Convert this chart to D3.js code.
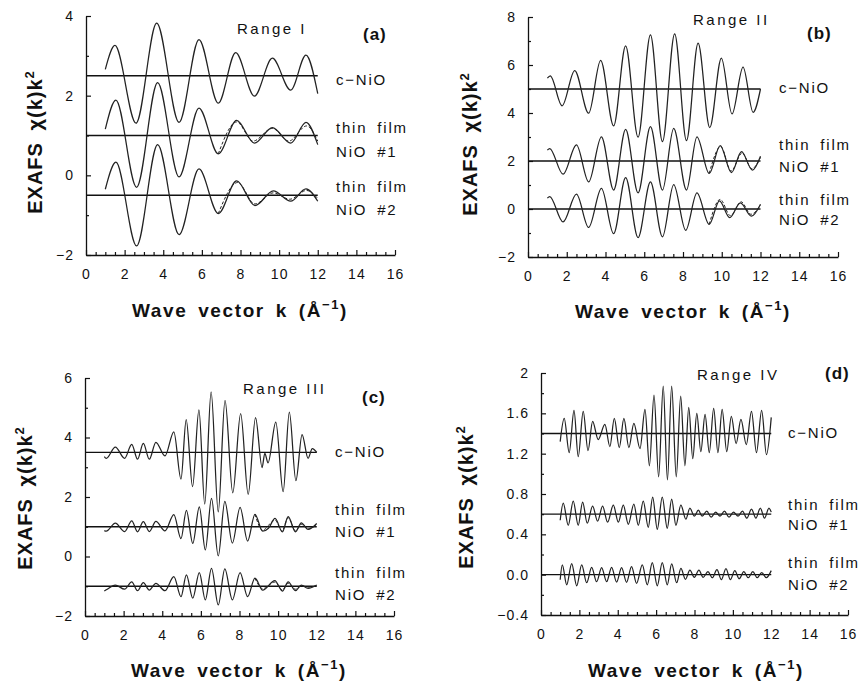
<!DOCTYPE html>
<html>
<head>
<meta charset="utf-8">
<script src="https://cdn.jsdelivr.net/npm/d3@7"></script>
<style>
  body { margin: 0; background: #fff; }
  text { font-family: "Liberation Sans", Arial, Helvetica, sans-serif; fill: #111; }
</style>
</head>
<body>
<div id="chart"></div>
<script>
// ---- data: [k, chi(k)k^2] at turning points ----
const xTicks = [0, 2, 4, 6, 8, 10, 12, 14, 16];
const seriesNames = ["c\u2212NiO", "thin film", "NiO #1", "thin film", "NiO #2"];

// (a) Range I
const aTicks = [-2, 0, 2, 4];
const aBaselines = [2.5, 1.0, -0.5];
const aCNiO = [[1.0,2.66],[1.5,3.26],[2.59,1.31],[3.66,3.82],[4.82,1.33],[5.85,3.41],[6.85,1.81],[7.75,3.08],[8.72,1.99],[9.65,2.94],[10.6,2.14],[11.39,3.02],[12.0,2.05]];
const aFilm1 = [[1.0,1.16],[1.55,1.89],[2.62,-0.3],[3.71,2.33],[4.82,-0.04],[5.85,1.69],[6.85,0.54],[7.8,1.38],[8.72,0.81],[9.65,1.2],[10.6,0.81],[11.39,1.33],[12.0,0.77]];
const aFilm1Fit = [[6.85,0.54],[7.8,1.34],[8.65,0.86],[9.65,1.18],[10.5,0.86],[11.42,1.24],[12.0,0.86]];
const aFilm2 = [[1.0,-0.35],[1.55,0.33],[2.62,-1.77],[3.71,0.77],[4.82,-1.49],[5.85,0.16],[6.85,-0.96],[7.8,-0.14],[8.75,-0.76],[9.7,-0.39],[10.6,-0.65],[11.39,-0.34],[12.0,-0.65]];
const aFilm2Fit = [[6.85,-0.96],[7.85,-0.18],[8.75,-0.72],[9.7,-0.44],[10.55,-0.6],[11.42,-0.38],[12.0,-0.58]];

// (b) Range II
const bTicks = [-2, 0, 2, 4, 6, 8];
const bBaselines = [5.0, 2.0, 0.0];
const bCNiO = [[1.0,5.45],[1.15,5.55],[1.76,4.3],[2.41,5.77],[3.13,3.99],[3.75,6.19],[4.42,3.46],[5.04,6.8],[5.68,2.99],[6.32,7.26],[6.94,2.81],[7.57,7.3],[8.18,2.85],[8.78,6.91],[9.38,3.39],[9.98,6.29],[10.53,3.96],[11.1,5.91],[11.62,4.03],[12.0,5.0]];
const bFilm1 = [[1.0,2.45],[1.12,2.52],[1.81,1.45],[2.5,2.67],[3.13,1.13],[3.79,3.01],[4.42,0.79],[5.04,3.32],[5.68,0.67],[6.32,3.43],[6.94,0.79],[7.52,3.36],[8.18,0.79],[8.72,3.01],[9.35,1.48],[9.92,2.64],[10.5,1.52],[11.02,2.39],[11.58,1.62],[12.0,2.2]];
const bFilm1Fit = [[9.35,1.48],[9.95,2.6],[10.48,1.58],[11.05,2.33],[11.55,1.68],[12.0,2.15]];
const bFilm2 = [[1.0,0.45],[1.12,0.52],[1.81,-0.54],[2.5,0.62],[3.13,-0.77],[3.79,0.86],[4.42,-1.03],[5.04,1.31],[5.68,-1.19],[6.32,1.13],[6.94,-1.16],[7.52,1.02],[8.14,-0.89],[8.72,0.67],[9.35,-0.64],[9.88,0.34],[10.41,-0.36],[10.96,0.26],[11.53,-0.3],[12.0,0.2]];
const bFilm2Fit = [[9.35,-0.64],[9.92,0.4],[10.45,-0.28],[11.0,0.3],[11.5,-0.22],[12.0,0.15]];

// (c) Range III
const cTicks = [-2, 0, 2, 4, 6];
const cBaselines = [3.5, 1.0, -1.0];
const cCNiO = [[1.0,3.36],[1.1,3.3],[1.57,3.68],[2.05,3.3],[2.42,3.77],[2.72,3.27],[3.02,3.8],[3.33,3.27],[3.67,3.84],[4.14,3.38],[4.6,4.19],[4.97,2.6],[5.24,4.6],[5.57,2.35],[5.9,4.93],[6.2,1.76],[6.53,5.53],[6.9,1.5],[7.25,5.25],[7.65,2.14],[8.06,4.8],[8.45,2.09],[8.83,4.67],[9.17,2.99],[9.31,3.47],[9.48,3.15],[9.88,4.52],[10.26,2.18],[10.58,4.85],[10.92,2.55],[11.24,4.1],[11.55,3.3],[11.77,3.63],[12.0,3.5]];
const cFilm1 = [[1.0,0.87],[1.1,0.85],[1.57,1.12],[2.05,0.84],[2.42,1.2],[2.72,0.83],[3.02,1.17],[3.33,0.84],[3.67,1.18],[4.14,0.86],[4.6,1.41],[4.97,0.6],[5.25,1.55],[5.58,0.44],[5.92,1.67],[6.23,0.22],[6.55,1.95],[6.9,0.02],[7.24,1.85],[7.63,0.45],[8.03,1.65],[8.42,0.52],[8.8,1.42],[9.2,0.85],[9.5,0.95],[9.84,1.28],[10.22,0.83],[10.52,1.34],[10.9,0.83],[11.2,1.13],[11.55,0.91],[12.0,1.11]];
const cFilm1Fit = [[8.8,1.42],[9.2,0.88],[9.5,1.05],[9.84,1.22],[10.2,0.86],[10.52,1.3],[10.9,0.86],[11.2,1.08],[11.55,0.94],[12.0,1.06]];
const cFilm2 = [[1.0,-1.16],[1.1,-1.12],[1.57,-0.96],[2.05,-1.1],[2.42,-0.85],[2.72,-1.15],[3.02,-0.88],[3.33,-1.13],[3.67,-0.9],[4.14,-1.15],[4.6,-0.68],[4.97,-1.35],[5.25,-0.62],[5.58,-1.4],[5.92,-0.54],[6.23,-1.46],[6.55,-0.4],[6.9,-1.63],[7.24,-0.42],[7.63,-1.46],[8.03,-0.54],[8.42,-1.35],[8.8,-0.73],[9.2,-1.13],[9.83,-0.81],[10.22,-1.16],[10.52,-0.85],[10.9,-1.15],[11.2,-0.96],[11.55,-1.07],[12.0,-0.96]];
const cFilm2Fit = [[8.8,-0.73],[9.2,-1.08],[9.83,-0.86],[10.22,-1.12],[10.52,-0.9],[10.9,-1.1],[11.2,-0.98],[11.55,-1.03],[12.0,-0.98]];

// (d) Range IV
const dTicks = [-0.4, 0, 0.4, 0.8, 1.2, 1.6, 2];
const dBaselines = [1.4, 0.6, 0.0];
const dCNiO = [[1.0,1.32],[1.21,1.55],[1.47,1.21],[1.72,1.63],[1.94,1.17],[2.2,1.62],[2.45,1.23],[2.69,1.52],[2.98,1.34],[3.33,1.49],[3.59,1.27],[3.82,1.55],[4.08,1.26],[4.32,1.55],[4.58,1.26],[4.84,1.5],[5.16,1.25],[5.42,1.64],[5.65,1.08],[5.89,1.78],[6.13,0.97],[6.37,1.87],[6.59,0.94],[6.81,1.87],[7.05,0.97],[7.28,1.77],[7.5,1.08],[7.7,1.66],[7.91,1.15],[8.12,1.6],[8.33,1.22],[8.55,1.59],[8.77,1.21],[9.0,1.65],[9.22,1.21],[9.44,1.64],[9.68,1.22],[9.92,1.57],[10.17,1.3],[10.42,1.54],[10.7,1.29],[10.97,1.62],[11.23,1.21],[11.5,1.63],[11.75,1.19],[12.0,1.56]];
const dFilm1 = [[1.0,0.54],[1.16,0.71],[1.42,0.49],[1.68,0.73],[1.94,0.49],[2.17,0.72],[2.41,0.51],[2.69,0.68],[2.95,0.53],[3.21,0.68],[3.47,0.52],[3.77,0.69],[4.03,0.52],[4.29,0.69],[4.55,0.5],[4.84,0.7],[5.07,0.49],[5.33,0.73],[5.59,0.47],[5.82,0.77],[6.06,0.45],[6.32,0.77],[6.58,0.46],[6.81,0.75],[7.03,0.49],[7.29,0.69],[7.55,0.55],[7.76,0.66],[7.99,0.58],[8.2,0.64],[8.4,0.58],[8.64,0.63],[8.87,0.57],[9.1,0.62],[9.33,0.58],[9.56,0.63],[9.8,0.57],[10.03,0.62],[10.27,0.58],[10.5,0.63],[10.73,0.56],[10.97,0.65],[11.2,0.56],[11.43,0.66],[11.65,0.56],[11.88,0.66],[12.0,0.62]];
const dFilm2 = [[1.0,-0.05],[1.11,0.096],[1.34,-0.1],[1.6,0.11],[1.86,-0.11],[2.12,0.096],[2.38,-0.08],[2.64,0.073],[2.9,-0.07],[3.16,0.07],[3.42,-0.07],[3.68,0.073],[3.94,-0.073],[4.2,0.07],[4.46,-0.076],[4.72,0.08],[4.98,-0.086],[5.28,0.096],[5.54,-0.1],[5.8,0.12],[6.06,-0.11],[6.32,0.12],[6.58,-0.1],[6.81,0.106],[7.07,-0.08],[7.29,0.063],[7.53,-0.046],[7.76,0.046],[7.99,-0.026],[8.23,0.046],[8.45,-0.026],[8.7,0.03],[8.93,-0.03],[9.17,0.05],[9.4,-0.05],[9.64,0.06],[9.87,-0.05],[10.1,0.04],[10.33,-0.04],[10.57,0.03],[10.8,-0.03],[11.04,0.03],[11.27,-0.03],[11.5,0.02],[11.74,-0.03],[12.0,0.04]];

// ---- layout ----
const W = 861, H = 681;
const fmtInt = d => d < 0 ? "\u2212" + Math.abs(d) : String(d);
const fmtDec = d => d === 2 ? "2" : (d < 0 ? "\u2212" + Math.abs(d).toFixed(1) : d.toFixed(1));

const panels = [
  { tag: "(a)", range: "Range I", x0: 86, x1: 395, yTop: 16, yBot: 255, domain: [-2, 4], ticks: aTicks, minor: 1, fmt: fmtInt,
    curves: [aCNiO, aFilm1, aFilm2], fits: [aFilm1Fit, aFilm2Fit], baselines: aBaselines,
    rangePos: [237, 34], tagPos: [363, 40], labelX: 336, labelY: [85, 133, 157, 192, 215],
    xTitle: [240, 317], yTitle: [42, 142] },
  { tag: "(b)", range: "Range II", x0: 528, x1: 838, yTop: 17, yBot: 257, domain: [-2, 8], ticks: bTicks, minor: 1, fmt: fmtInt,
    curves: [bCNiO, bFilm1, bFilm2], fits: [bFilm1Fit, bFilm2Fit], baselines: bBaselines,
    rangePos: [693, 25], tagPos: [807, 39], labelX: 779, labelY: [93, 150, 172, 205, 225],
    xTitle: [683, 318], yTitle: [477, 144] },
  { tag: "(c)", range: "Range III", x0: 85, x1: 394, yTop: 378, yBot: 616, domain: [-2, 6], ticks: cTicks, minor: 1, fmt: fmtInt,
    curves: [cCNiO, cFilm1, cFilm2], fits: [cFilm1Fit, cFilm2Fit], baselines: cBaselines,
    rangePos: [243, 394], tagPos: [362, 403], labelX: 335, labelY: [457, 515, 537, 578, 600],
    xTitle: [239, 677], yTitle: [32, 498] },
  { tag: "(d)", range: "Range IV", x0: 541, x1: 848, yTop: 373, yBot: 615, domain: [-0.4, 2], ticks: dTicks, minor: 0.2, fmt: fmtDec,
    curves: [dCNiO, dFilm1, dFilm2], fits: [], baselines: dBaselines,
    rangePos: [697, 380], tagPos: [825, 379], labelX: 788, labelY: [438, 510, 530, 568, 590],
    xTitle: [696, 677], yTitle: [473, 497] }
];

const svg = d3.select("#chart").append("svg")
  .attr("width", W).attr("height", H);
svg.append("rect").attr("width", W).attr("height", H).attr("fill", "#fff");

panels.forEach(p => {
  const g = svg.append("g");
  const x = d3.scaleLinear().domain([0, 16]).range([p.x0, p.x1]);
  const y = d3.scaleLinear().domain(p.domain).range([p.yBot, p.yTop]);

  // minor ticks
  const xMinor = d3.range(0, 16.01, 0.5).filter(v => v % 2 !== 0);
  const yMinor = d3.range(p.domain[0], p.domain[1] + 1e-6, p.minor)
    .filter(v => !p.ticks.some(t => Math.abs(t - v) < 1e-6));

  g.append("g").attr("transform", `translate(0,${p.yBot})`)
    .call(d3.axisBottom(x).tickValues(xMinor).tickSize(-3).tickFormat(""))
    .call(a => a.select(".domain").remove());
  g.append("g").attr("transform", `translate(${p.x0},0)`)
    .call(d3.axisLeft(y).tickValues(yMinor).tickSize(-3).tickFormat(""))
    .call(a => a.select(".domain").remove());

  const xa = g.append("g").attr("transform", `translate(0,${p.yBot})`)
    .call(d3.axisBottom(x).tickValues(xTicks).tickSize(-5).tickSizeOuter(0).tickPadding(14).tickFormat(fmtInt));
  const ya = g.append("g").attr("transform", `translate(${p.x0},0)`)
    .call(d3.axisLeft(y).tickValues(p.ticks).tickSize(-5).tickSizeOuter(0).tickPadding(12).tickFormat(p.fmt));
  [xa, ya].forEach(a => {
    a.selectAll("path,line").attr("stroke", "#111").attr("stroke-width", 1.3);
    a.selectAll("text").attr("font-size", 14).attr("letter-spacing", 1)
      .style("font-family", "'Liberation Sans', Arial, sans-serif").attr("fill", "#111");
  });
  g.selectAll(".tick line").attr("stroke", "#111").attr("stroke-width", 1.2);

  // zero lines of each offset spectrum
  g.selectAll(".base").data(p.baselines).enter().append("line")
    .attr("x1", x(0)).attr("x2", x(12))
    .attr("y1", d => y(d)).attr("y2", d => y(d))
    .attr("stroke", "#111").attr("stroke-width", 1.3);

  const line = d3.line().x(d => x(d[0])).y(d => y(d[1])).curve(d3.curveMonotoneX);
  g.selectAll(".curve").data(p.curves).enter().append("path")
    .attr("d", line).attr("fill", "none")
    .attr("stroke", "#222").attr("stroke-width", 1.25);
  g.selectAll(".fit").data(p.fits).enter().append("path")
    .attr("d", line).attr("fill", "none")
    .attr("stroke", "#222").attr("stroke-width", 1).attr("stroke-dasharray", "3,2");

  // labels
  g.append("text").attr("x", p.rangePos[0]).attr("y", p.rangePos[1])
    .attr("font-size", 15).attr("letter-spacing", 2.5).text(p.range);
  g.append("text").attr("x", p.tagPos[0]).attr("y", p.tagPos[1])
    .attr("font-size", 17).attr("font-weight", "bold").attr("letter-spacing", 1).text(p.tag);
  seriesNames.forEach((s, i) => {
    g.append("text").attr("x", p.labelX).attr("y", p.labelY[i])
      .attr("font-size", 15).attr("letter-spacing", 1.8).attr("word-spacing", 4).text(s);
  });

  const xt = g.append("text").attr("x", p.xTitle[0]).attr("y", p.xTitle[1])
    .attr("text-anchor", "middle").attr("font-size", 19).attr("font-weight", "bold")
    .attr("letter-spacing", 1.6).attr("word-spacing", 4);
  xt.append("tspan").text("Wave vector k (\u00C5");
  xt.append("tspan").attr("dy", -8).attr("font-size", 13).text("\u22121");
  xt.append("tspan").attr("dy", 8).text(")");

  const yt = g.append("text")
    .attr("transform", `translate(${p.yTitle[0]},${p.yTitle[1]}) rotate(-90)`)
    .attr("text-anchor", "middle").attr("font-size", 20).attr("font-weight", "bold")
    .attr("letter-spacing", 1).attr("word-spacing", 5);
  yt.append("tspan").text("EXAFS \u03C7(k)k");
  yt.append("tspan").attr("dy", -8).attr("font-size", 13).text("2");
});
</script>
</body>
</html>
